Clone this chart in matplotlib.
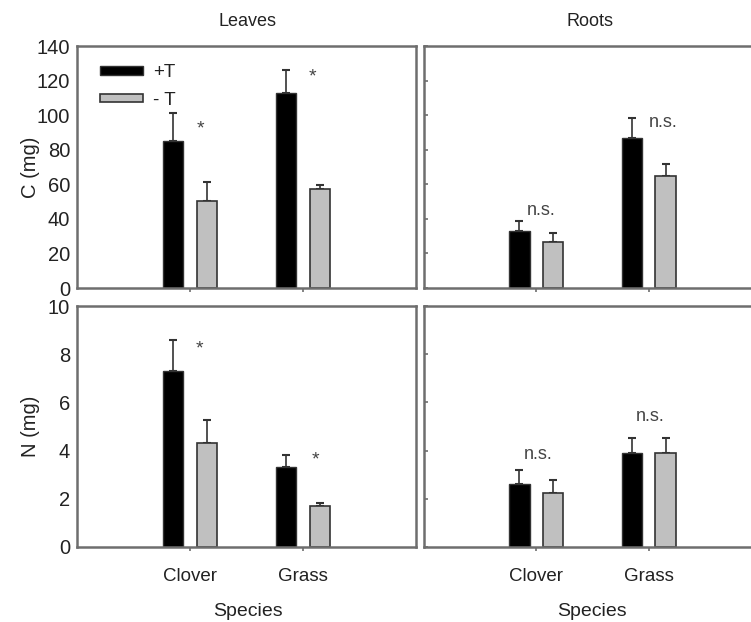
import matplotlib
matplotlib.use("Agg")
import matplotlib.pyplot as plt
import numpy as np

plt.rcParams["font.family"] = ["Liberation Sans", "DejaVu Sans"]

species = ["Clover", "Grass"]
treatments = ["+T", "- T"]

# C (mg)
leaves_c_plus = [85, 113]
leaves_c_plus_err = [16, 13]
leaves_c_minus = [50.5, 57.5]
leaves_c_minus_err = [11, 1.8]
roots_c_plus = [33, 87]
roots_c_plus_err = [6, 11.5]
roots_c_minus = [26.5, 65]
roots_c_minus_err = [5.5, 6.5]

# N (mg)
leaves_n_plus = [7.3, 3.3]
leaves_n_plus_err = [1.3, 0.5]
leaves_n_minus = [4.3, 1.7]
leaves_n_minus_err = [0.95, 0.13]
roots_n_plus = [2.6, 3.92]
roots_n_plus_err = [0.6, 0.62]
roots_n_minus = [2.22, 3.92]
roots_n_minus_err = [0.55, 0.62]

# significance marks per species: (label, x offset from species, height)
sig_leaves_c = [("*", 0.09, 92), ("*", 0.08, 122)]
sig_roots_c = [("n.s.", 0.045, 45), ("n.s.", 0.125, 95.5)]
sig_leaves_n = [("*", 0.08, 8.2), ("*", 0.11, 3.6)]
sig_roots_n = [("n.s.", 0.02, 3.83), ("n.s.", 0.01, 5.4)]

SPINE = "#6e6e6e"
GREY = "#c0c0c0"
TXT = "#222222"

W, H = 751, 622
fig = plt.figure(figsize=(W / 100, H / 100), dpi=100)


def box(l, r, t, b):
    return [l / W, 1 - b / H, (r - l) / W, (b - t) / H]


ax_lc = fig.add_axes(box(77, 416, 46, 288))
ax_rc = fig.add_axes(box(424, 761, 46, 288))
ax_ln = fig.add_axes(box(77, 416, 306, 547))
ax_rn = fig.add_axes(box(424, 761, 306, 547))

x = np.arange(1, len(species) + 1)
off, bw = 0.15, 0.18


def panel(ax, plus, plus_err, minus, minus_err, sig, ymax, step, left, bottom):
    b1 = ax.bar(x - off, plus, bw, color="black", edgecolor="#333333", linewidth=1,
                label=treatments[0], zorder=2)
    b2 = ax.bar(x + off, minus, bw, color=GREY, edgecolor="#333333", linewidth=1.2,
                label=treatments[1], zorder=2)
    ax.errorbar(x - off, plus, yerr=[np.zeros(len(plus)), plus_err], fmt="none",
                ecolor="#333333", elinewidth=1.2, capsize=3, capthick=1.5, zorder=1)
    ax.errorbar(x + off, minus, yerr=[np.zeros(len(minus)), minus_err], fmt="none",
                ecolor="#333333", elinewidth=1.2, capsize=3, capthick=1.5, zorder=1)
    for xi, (lab, dx, h) in zip(x, sig):
        fs = 14 if lab == "*" else 13
        ax.text(xi + dx, h, lab, ha="center", va="center", fontsize=fs, color="#444444")
    ax.set_xlim(0, 3)
    ax.set_ylim(0, ymax)
    ax.set_yticks(np.arange(0, ymax + step / 2, step))
    ax.set_xticks(x)
    for s in ax.spines.values():
        s.set_color(SPINE)
        s.set_linewidth(1.8)
    ax.tick_params(axis="x", direction="out", length=3, width=1.2, color=SPINE,
                   labelbottom=bottom, labelsize=13.5, labelcolor=TXT, pad=12)
    if left:
        ax.tick_params(axis="y", length=0, labelsize=14.5, labelcolor=TXT, pad=5)
    else:
        ax.tick_params(axis="y", direction="in", length=3, width=1.2, color=SPINE,
                       labelleft=False)
    if bottom:
        ax.set_xticklabels(species)
    return b1, b2


h1, h2 = panel(ax_lc, leaves_c_plus, leaves_c_plus_err, leaves_c_minus, leaves_c_minus_err,
               sig_leaves_c, 140, 20, True, False)
panel(ax_rc, roots_c_plus, roots_c_plus_err, roots_c_minus, roots_c_minus_err,
      sig_roots_c, 140, 20, False, False)
panel(ax_ln, leaves_n_plus, leaves_n_plus_err, leaves_n_minus, leaves_n_minus_err,
      sig_leaves_n, 10, 2, True, True)
panel(ax_rn, roots_n_plus, roots_n_plus_err, roots_n_minus, roots_n_minus_err,
      sig_roots_n, 10, 2, False, True)
ax_rc.spines["right"].set_visible(False)
ax_rn.spines["right"].set_visible(False)

ax_lc.legend(handles=[h1, h2], loc="upper left", bbox_to_anchor=(0.068, 0.924),
             frameon=False, fontsize=13.5, handlelength=2.3, handleheight=0.35,
             labelspacing=0.55, handletextpad=0.55, borderpad=0, borderaxespad=0,
             labelcolor=TXT)

fig.text(248 / W, 1 - 21 / H, "Leaves", ha="center", va="center", fontsize=13, color=TXT)
fig.text(590 / W, 1 - 21 / H, "Roots", ha="center", va="center", fontsize=13, color=TXT)
fig.text(248 / W, 1 - 612 / H, "Species", ha="center", va="center", fontsize=14, color=TXT)
fig.text(592 / W, 1 - 612 / H, "Species", ha="center", va="center", fontsize=14, color=TXT)
fig.text(30 / W, 1 - 167 / H, "C (mg)", ha="center", va="center", rotation=90,
         fontsize=14.5, color=TXT)
fig.text(30 / W, 1 - 426 / H, "N (mg)", ha="center", va="center", rotation=90,
         fontsize=14.5, color=TXT)

fig.savefig("out.png", dpi=100, facecolor="white")
